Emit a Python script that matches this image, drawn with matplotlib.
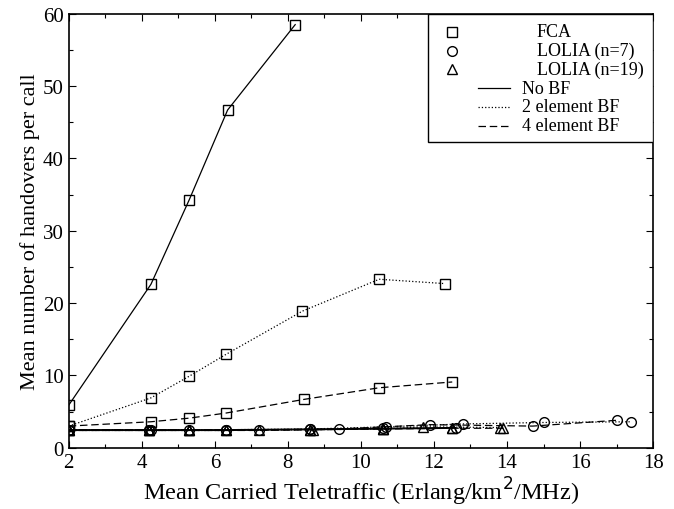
import matplotlib
matplotlib.use("Agg")
import matplotlib.pyplot as plt
from matplotlib.lines import Line2D
from matplotlib.patches import Rectangle
from matplotlib.ticker import MultipleLocator

plt.rcParams['font.family'] = ['Liberation Serif', 'DejaVu Serif']

# FCA curves
fca_nobf_x = [2.0, 4.25, 5.3, 6.35, 8.2]
fca_nobf_y = [5.9, 22.6, 34.3, 46.7, 58.5]
fca_2bf_x = [2.0, 4.25, 5.3, 6.3, 8.4, 10.5, 12.3]
fca_2bf_y = [3.0, 6.9, 9.9, 12.9, 18.9, 23.3, 22.7]
fca_4bf_x = [2.0, 4.25, 5.3, 6.3, 8.45, 10.5, 12.5]
fca_4bf_y = [3.0, 3.6, 4.1, 4.8, 6.7, 8.3, 9.1]

# LOLIA n=7
l7_nobf_x = [2.0, 4.2, 5.3, 6.3, 8.6, 10.6, 12.6]
l7_nobf_y = [2.5, 2.5, 2.5, 2.5, 2.6, 2.7, 2.8]
l7_2bf_x = [2.0, 4.2, 6.3, 8.6, 10.7, 12.8, 15.0, 17.4]
l7_2bf_y = [2.5, 2.5, 2.5, 2.6, 2.9, 3.3, 3.5, 3.6]
l7_4bf_x = [2.0, 4.25, 7.2, 9.4, 11.9, 14.7, 17.0]
l7_4bf_y = [2.5, 2.5, 2.5, 2.6, 3.2, 3.0, 3.8]

# LOLIA n=19
l19_nobf_x = [2.0, 4.2, 5.3, 6.3, 8.6, 10.6, 12.5]
l19_nobf_y = [2.4, 2.4, 2.4, 2.4, 2.5, 2.6, 2.7]
l19_2bf_x = [2.0, 4.2, 5.3, 6.3, 8.6, 10.6, 11.7, 13.8]
l19_2bf_y = [2.4, 2.4, 2.4, 2.4, 2.5, 2.6, 2.9, 2.8]
l19_4bf_x = [2.0, 4.2, 5.3, 7.2, 8.7, 10.6, 12.5, 13.9]
l19_4bf_y = [2.4, 2.4, 2.4, 2.4, 2.5, 2.6, 2.7, 2.7]

marker_labels = ['FCA', 'LOLIA (n=7)', 'LOLIA (n=19)']
line_labels = ['No BF', '2 element BF', '4 element BF']

fig = plt.figure(figsize=(6.74, 5.1), dpi=100)
ax = fig.add_axes([0.102, 0.12, 0.867, 0.851])

ms = 7
lw = 0.9
dash = (0, (6, 3))
series = [
    (fca_nobf_x, fca_nobf_y, 's', '-'),
    (fca_2bf_x, fca_2bf_y, 's', ':'),
    (fca_4bf_x, fca_4bf_y, 's', dash),
    (l7_nobf_x, l7_nobf_y, 'o', '-'),
    (l7_2bf_x, l7_2bf_y, 'o', ':'),
    (l7_4bf_x, l7_4bf_y, 'o', dash),
    (l19_nobf_x, l19_nobf_y, '^', '-'),
    (l19_2bf_x, l19_2bf_y, '^', ':'),
    (l19_4bf_x, l19_4bf_y, '^', dash),
]
for x, y, m, ls in series:
    ax.plot(x, y, color='black', linestyle=ls, linewidth=lw, marker=m,
            markersize=ms, markerfacecolor='none', markeredgecolor='black',
            markeredgewidth=1.0)

ax.set_xlim(2, 18)
ax.set_ylim(0, 60)
ax.xaxis.set_major_locator(MultipleLocator(2))
ax.xaxis.set_minor_locator(MultipleLocator(1))
ax.yaxis.set_major_locator(MultipleLocator(10))
ax.yaxis.set_minor_locator(MultipleLocator(5))
ax.tick_params(which='both', direction='in', top=True, right=True,
               labelsize=15, width=0.8)
ax.tick_params(which='major', length=5)
ax.tick_params(which='minor', length=3)
for s in ax.spines.values():
    s.set_linewidth(1.2)

ax.set_xlabel('Mean Carried Teletraffic (Erlang/km$^2$/MHz)', fontsize=17.5,
              labelpad=2)
ax.set_ylabel('Mean number of handovers per call', fontsize=16, labelpad=2)

# hand-made legend: marker rows and line rows are indented differently
tr = ax.transAxes
ax.add_patch(Rectangle((0.615, 0.705), 0.385, 0.295, transform=tr,
                       facecolor='white', edgecolor='black', linewidth=1.0,
                       zorder=5))
rows_y = [0.959, 0.915, 0.873, 0.829, 0.786, 0.742]
for i, (m, lab) in enumerate(zip(['s', 'o', '^'], marker_labels)):
    ax.add_line(Line2D([0.656], [rows_y[i]], transform=tr, linestyle='none',
                       marker=m, markersize=ms, markerfacecolor='none',
                       markeredgecolor='black', zorder=6))
    ax.text(0.801, rows_y[i], lab, transform=tr, fontsize=13,
            va='center', ha='left', zorder=6)
for i, (ls, lab) in enumerate(zip(['-', ':', dash], line_labels)):
    y = rows_y[i + 3]
    ax.add_line(Line2D([0.700, 0.755], [y, y], transform=tr, color='black',
                       linestyle=ls, linewidth=lw, zorder=6))
    ax.text(0.776, y, lab, transform=tr, fontsize=13,
            va='center', ha='left', zorder=6)

fig.savefig('out.png', dpi=100)
